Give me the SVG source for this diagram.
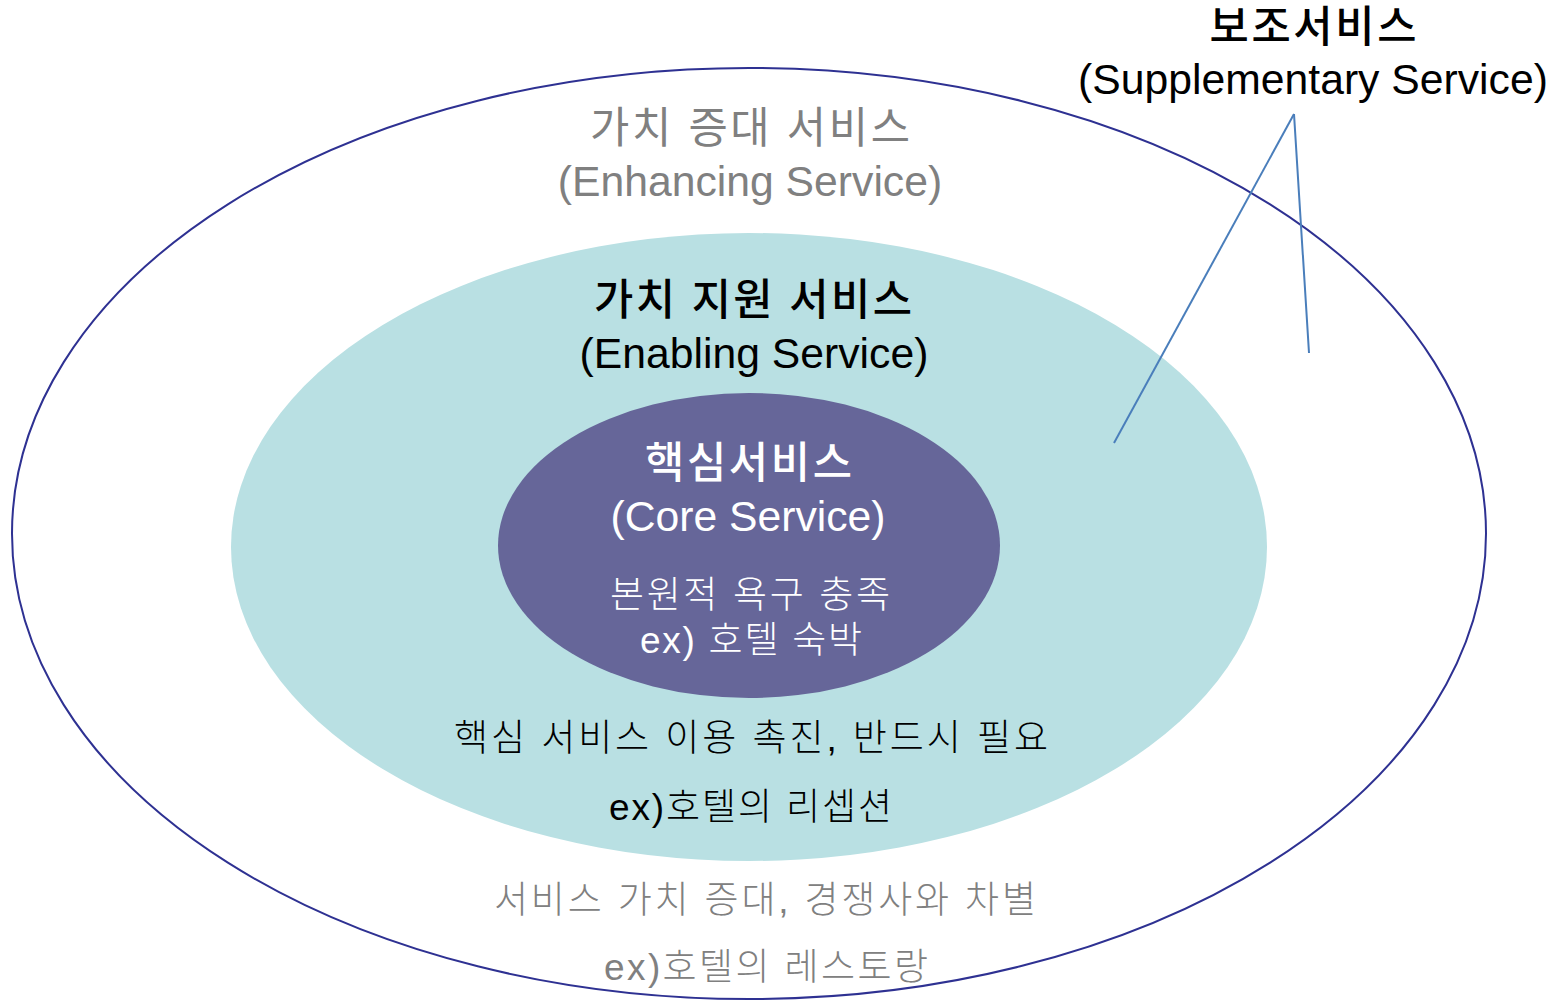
<svg xmlns="http://www.w3.org/2000/svg" width="1562" height="1000" viewBox="0 0 1562 1000">
  <style>
    text { font-family: "Liberation Sans", "Noto Sans CJK KR", sans-serif; text-anchor: middle; }
    .title { font-size: 42.7px; }
    .ko { font-weight: 500; }
    .note { font-size: 37px; font-weight: 300; }
    .gray { fill: #808080; }
    .black { fill: #000000; }
    .white { fill: #ffffff; }
    .leader { stroke: #4a7ebb; stroke-width: 2; fill: none; }
  </style>

  <rect width="1562" height="1000" fill="#ffffff"/>

  <!-- Outer ring: enhancing services -->
  <g id="enhancing">
    <ellipse cx="749" cy="533.5" rx="737" ry="465.5" fill="#ffffff" stroke="#2e3192" stroke-width="2"/>
    <text class="title gray" x="750" y="143" textLength="320" lengthAdjust="spacing">가치 증대 서비스</text>
    <text class="title gray" x="750" y="196">(Enhancing Service)</text>
    <text class="note gray" x="765" y="913" textLength="542" lengthAdjust="spacing">서비스 가치 증대, 경쟁사와 차별</text>
    <text class="note gray" x="766" y="980" textLength="324" lengthAdjust="spacing">ex)호텔의 레스토랑</text>
  </g>

  <!-- Middle ring: enabling services -->
  <g id="enabling">
    <ellipse cx="749" cy="547" rx="518" ry="314" fill="#b9e0e3"/>
    <text class="title ko black" x="753" y="315" textLength="318" lengthAdjust="spacing">가치 지원 서비스</text>
    <text class="title black" x="754" y="368">(Enabling Service)</text>
    <text class="note black" x="751" y="751" textLength="594" lengthAdjust="spacing">핵심 서비스 이용 촉진, 반드시 필요</text>
    <text class="note black" x="750.5" y="820" textLength="283" lengthAdjust="spacing">ex)호텔의 리셉션</text>
  </g>

  <!-- Centre: core service -->
  <g id="core">
    <ellipse cx="749" cy="545.5" rx="251" ry="152.5" fill="#666699"/>
    <text class="title ko white" x="748.5" y="478" textLength="207" lengthAdjust="spacing">핵심서비스</text>
    <text class="title white" x="748" y="531">(Core Service)</text>
    <text class="note white" x="750" y="608" textLength="280" lengthAdjust="spacing">본원적 욕구 충족</text>
    <text class="note white" x="751" y="653" textLength="222" lengthAdjust="spacing">ex) 호텔 숙박</text>
  </g>

  <!-- Callout label -->
  <g id="supplementary">
    <text class="title ko black" x="1313" y="42" textLength="207" lengthAdjust="spacing">보조서비스</text>
    <text class="title black" x="1313" y="94">(Supplementary Service)</text>
  </g>

  <!-- Leader lines from the callout to the two outer rings -->
  <g id="connectors">
    <line class="leader" x1="1294" y1="114" x2="1114" y2="443"/>
    <line class="leader" x1="1294" y1="114" x2="1309" y2="353"/>
  </g>
</svg>
